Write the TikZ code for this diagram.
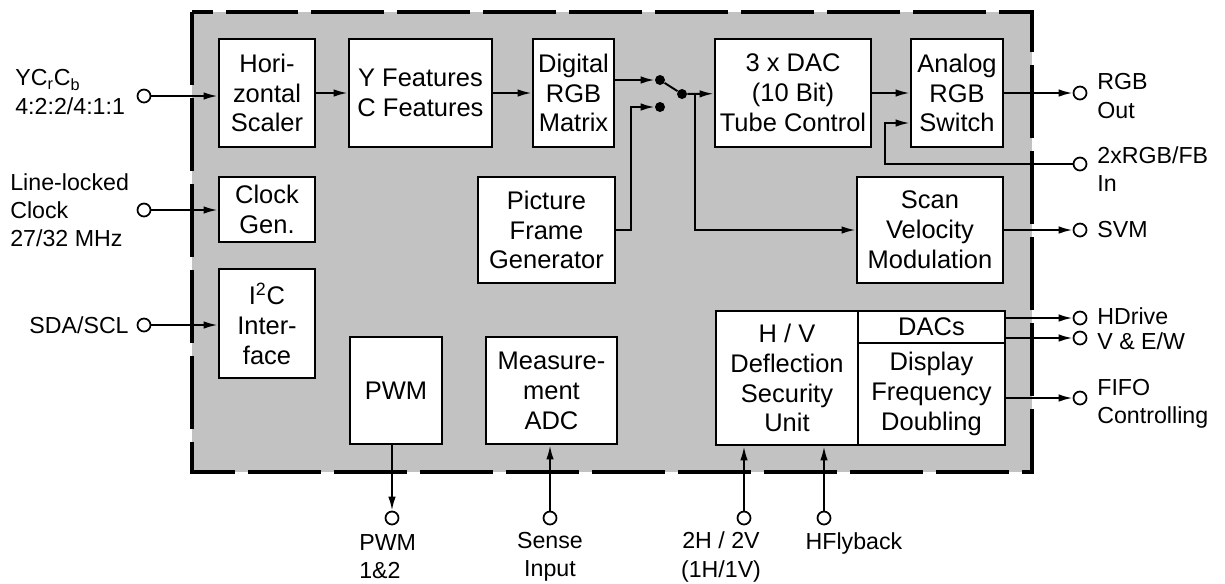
\documentclass[tikz,border=0pt]{standalone}
\usepackage{fontspec}
\setmainfont{Liberation Sans}
\usetikzlibrary{arrows.meta,calc}
\newcommand\myblk[6]{%
  \pgfmathsetmacro\myBW{(#4-#2)*0.02}%
  \pgfmathsetmacro\myBH{(#5-#3)*0.02}%
  \node[blk, minimum width=\myBW cm, minimum height=\myBH cm] (#1) at ({(#2+#4)/2},{(#3+#5)/2}) {#6};}
\begin{document}
\begin{tikzpicture}[x=0.02cm,y=-0.02cm,
  blk/.style={draw, line width=1.6pt, fill=white, align=center, inner sep=0pt,
    font=\fontsize{14.5}{17}\selectfont},
  conn/.style={line width=1.1pt},
  arr/.style={conn, -{Latex[length=0.28cm,width=0.15cm]}},
  term/.style={circle, draw, line width=1pt, fill=white, inner sep=0pt, minimum size=0.26cm},
  sdot/.style={circle, fill=black, inner sep=0pt, minimum size=0.2cm},
  lbl/.style={align=left, inner sep=0pt, font=\fontsize{13.2}{16}\selectfont},
  lblc/.style={align=center, inner sep=0pt, font=\fontsize{13.2}{16}\selectfont},
  chip/.style={fill=black!24, draw, line width=1.8pt, dash pattern=on 1.46cm off 0.26cm}]
\useasboundingbox (0,0) rectangle (1225,583);
% chip outline
\path[chip] (192,12) rectangle (1032,472);
% blocks
\myblk{hs}{219}{39}{315}{147}{Hori-\\zontal\\Scaler}
\myblk{yf}{349}{39}{492}{147}{Y Features\\C Features}
\myblk{rgbm}{533}{39}{614}{147}{Digital\\RGB\\Matrix}
\myblk{dac}{715}{39}{871}{147}{3 x DAC\\(10 Bit)\\Tube Control}
\myblk{ars}{911}{39}{1003}{147}{Analog\\RGB\\Switch}
\myblk{pfg}{478}{177}{615}{283}{Picture\\Frame\\Generator}
\myblk{clk}{219}{177}{315}{242}{Clock\\Gen.}
\myblk{i2c}{219}{269}{315}{378}{I\textsuperscript{2}C\\Inter-\\face}
\myblk{svm}{857}{177}{1003}{283}{Scan\\Velocity\\Modulation}
\myblk{pwm}{350}{337}{442}{444}{PWM}
\myblk{adc}{486}{337}{617}{444}{Measure-\\ment\\ADC}
\myblk{hv}{716}{311}{858}{445}{H / V\\Deflection\\Security\\Unit}
\myblk{dacs}{858}{311}{1005}{343}{DACs}
\myblk{dfd}{858}{343}{1005}{445}{Display\\Frequency\\Doubling}
% terminals
\node[term] (tYC) at (144,96) {};
\node[term] (tClk) at (144,210) {};
\node[term] (tSDA) at (144,325) {};
\node[term] (tRGB) at (1080,93) {};
\node[term] (tFB) at (1080,164) {};
\node[term] (tSVM) at (1080,230) {};
\node[term] (tHD) at (1080,318) {};
\node[term] (tVE) at (1080,338) {};
\node[term] (tFIFO) at (1080,398) {};
\node[term] (tPWM) at (392,518) {};
\node[term] (tSense) at (550,518) {};
\node[term] (t2H) at (744,518) {};
\node[term] (tHF) at (824,518) {};
% switch dots
\node[sdot] (s1) at (660,80) {};
\node[sdot] (s2) at (660,107) {};
\node[sdot] (s3) at (682,94) {};
\coordinate (k1) at (631,107);
\coordinate (jn) at (695,93);
\coordinate (fbk) at (885,123);
% connectors
\draw[arr] (tYC) -- (tYC -| hs.west);
\draw[arr] (tClk) -- (tClk -| clk.west);
\draw[arr] (tSDA) -- (tSDA -| i2c.west);
\draw[arr] (hs) -- (yf);
\draw[arr] (yf) -- (rgbm);
\draw[arr] (rgbm.east |- s1) -- (s1);
\draw[arr] (pfg.east) -| (k1) -- (s2);
\draw[conn] (s1) -- (s3);
\draw[arr] (s3) -- (dac);
\draw[arr] (jn) |- (svm.west);
\draw[arr] (dac) -- (ars);
\draw[arr] (ars) -- (tRGB);
\draw[arr] (tFB) -| (fbk) -- (fbk -| ars.west);
\draw[arr] (svm) -- (tSVM);
\draw[arr] (tHD -| dacs.east) -- (tHD);
\draw[arr] (tVE -| dacs.east) -- (tVE);
\draw[arr] (tFIFO -| dfd.east) -- (tFIFO);
\draw[arr] (tPWM |- pwm.south) -- (tPWM);
\draw[arr] (tSense) -- (tSense |- adc.south);
\draw[arr] (t2H) -- (t2H |- hv.south);
\draw[arr] (tHF) -- (tHF |- hv.south);
% labels
\node[lbl, anchor=west] (lYC) at (15,92) {YC\textsubscript{r}C\textsubscript{b}\\4:2:2/4:1:1};
\node[lbl, anchor=west] (lClk) at (10,210) {Line-locked\\Clock\\27/32 MHz};
\node[lbl, anchor=east] (lSDA) at (129,325) {SDA/SCL};
\node[lbl, anchor=west] (lRGB) at (1097,96) {RGB\\Out};
\node[lbl, anchor=west] (lFB) at (1097,169) {2xRGB/FB\\In};
\node[lbl, anchor=west] (lSVM) at (1097,230) {SVM};
\node[lbl, anchor=west] (lHD) at (1097,316) {HDrive};
\node[lbl, anchor=west] (lVE) at (1097,341) {V \& E/W};
\node[lbl, anchor=west] (lFIFO) at (1097,404) {FIFO\\Controlling};
\node[lbl, anchor=west] (lPWM) at (359,557) {PWM\\1\&2};
\node[lblc] (lSense) at (550,557) {Sense\\Input};
\node[lblc] (l2H) at (721,557) {2H / 2V\\(1H/1V)};
\node[lblc] (lHF) at (854,543) {HFlyback};
\end{tikzpicture}
\end{document}
